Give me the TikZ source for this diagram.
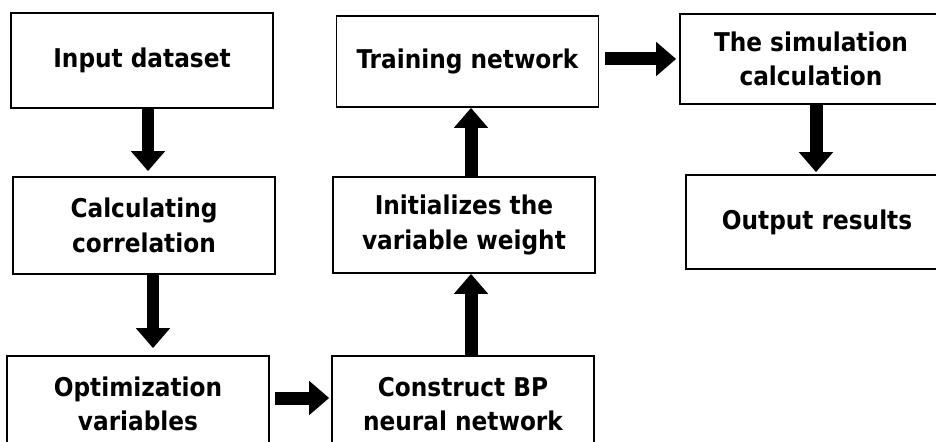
\documentclass[tikz,border=0pt]{standalone}
\usepackage{fontspec}
\setmainfont{DejaVu Sans Condensed}
\usetikzlibrary{arrows.meta}
\begin{document}
\begin{tikzpicture}[x=0.02cm, y=-0.02cm,
	stage/.style={draw, line width=1pt, minimum width=5.24cm, minimum height=1.92cm, inner sep=0pt, align=center, font=\fontsize{14.7}{19.5}\selectfont\bfseries},
	fatarrow/.style={line width=0.26cm, -{Triangle[width=0.66cm, length=0.4cm]}}]
	\useasboundingbox (0,0) rectangle (936,442);
	\clip (0,0) rectangle (936,442);
	
	\node[stage, minimum height=1.9cm] (input) at (142,60.5) {Input dataset};
	\node[stage, minimum height=1.94cm] (calc) at (144,225.5) {Calculating\\correlation};
	\node[stage] (optim) at (138,404) {Optimization\\variables};
	
	\node[stage] (construct) at (463,404) {Construct BP\\neural network};
	\node[stage] (init) at (464,225) {Initializes the\\variable weight};
	\node[stage, minimum height=1.82cm] (train) at (467.5,61.5) {Training network};
	
	\node[stage, minimum height=1.8cm] (sim) at (811,59) {The simulation\\calculation};
	\node[stage, minimum height=1.88cm] (output) at (817,222) {Output results};
	
	\draw[fatarrow, shorten >=0.1cm] ([xshift=0.12cm]input.south) -- ([xshift=0.12cm]input.south |- calc.north);
	\draw[fatarrow, shorten >=0.14cm] ([xshift=0.18cm]calc.south) -- ([xshift=0.18cm]calc.south |- optim.north);
	\draw[fatarrow, shorten <=0.1cm, shorten >=0.04cm] ([yshift=0.12cm]optim.east) -- ([yshift=0.12cm]optim.east -| construct.west);
	\draw[fatarrow] ([xshift=0.16cm]construct.north) -- ([xshift=0.16cm]construct.north |- init.south);
	\draw[fatarrow] ([xshift=0.14cm]init.north) -- ([xshift=0.14cm]init.north |- train.south);
	\draw[fatarrow, shorten <=0.12cm, shorten >=0.06cm] (train.east |- sim.east) -- (sim.west);
	\draw[fatarrow, shorten >=0.04cm] ([xshift=0.1cm]sim.south) -- ([xshift=0.1cm]sim.south |- output.north);
\end{tikzpicture}
\end{document}
